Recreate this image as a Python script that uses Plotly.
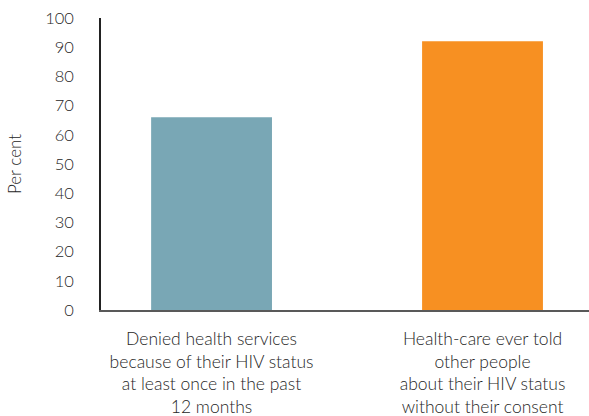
import plotly.graph_objects as go

categories = [
    "Denied health services<br>because of their HIV status<br>at least once in the past<br>12 months",
    "Health-care ever told<br>other people<br>about their HIV status<br>without their consent",
]
values = [66, 92]
colors = ["#79A7B5", "#F79022"]
y_ticks = list(range(0, 101, 10))

fig = go.Figure(
    go.Bar(
        x=[0, 1],
        y=values,
        marker=dict(color=colors, line=dict(width=0)),
        width=0.446,
        hoverinfo="skip",
    )
)

text_color = "#262626"
font_family = "Lato, 'Noto Sans', sans-serif"
fig.update_layout(
    width=589,
    height=416,
    margin=dict(l=101, r=0, t=18, b=106),
    paper_bgcolor="white",
    plot_bgcolor="white",
    showlegend=False,
    font=dict(family=font_family, size=16, color=text_color, weight=300),
)
fig.update_xaxes(
    range=[-0.408, 1.393],
    tickmode="array",
    tickvals=[0, 1],
    ticktext=categories,
    showline=True,
    linecolor="#595959",
    linewidth=1.5,
    ticks="outside",
    ticklen=12,
    tickcolor="rgba(0,0,0,0)",
    showgrid=False,
    zeroline=False,
    automargin=False,
    tickfont=dict(size=17.5, color=text_color, weight=300),
)
fig.update_yaxes(
    range=[0, 100],
    tickmode="array",
    tickvals=y_ticks,
    ticktext=[str(v) for v in y_ticks],
    showline=True,
    linecolor="#222222",
    linewidth=1.5,
    ticks="outside",
    ticklen=22,
    tickcolor="rgba(0,0,0,0)",
    showgrid=False,
    zeroline=False,
    automargin=False,
    tickfont=dict(size=16.5, color=text_color, weight=300),
    title=dict(text="Per cent", font=dict(size=17, color=text_color, weight=300), standoff=19),
)

fig.write_html(
    "out.html",
    config={"displayModeBar": False},
    post_script="document.body.style.margin='0px';document.body.style.overflow='hidden';",
)
